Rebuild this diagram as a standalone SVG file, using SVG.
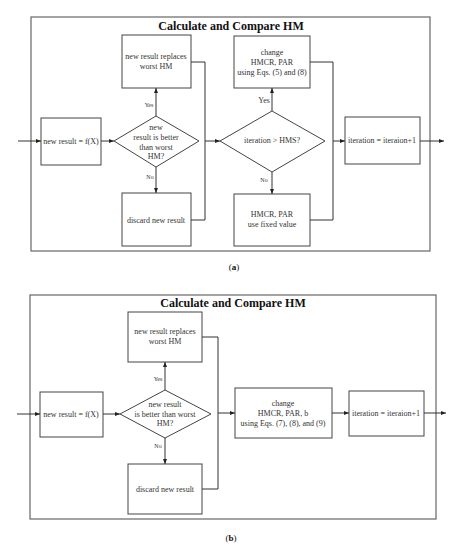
<svg xmlns="http://www.w3.org/2000/svg" width="469" height="550" viewBox="0 0 469 550">
<defs>
<marker id="ah" viewBox="0 0 10 10" refX="10" refY="5" markerWidth="5" markerHeight="5" orient="auto" markerUnits="userSpaceOnUse">
<path d="M0,1 L10,5 L0,9 z" fill="#222"/>
</marker>
<style>
.frame{fill:#fff;stroke:#666;stroke-width:1.2}
.box{fill:#fff;stroke:#444;stroke-width:1}
.ln{fill:none;stroke:#333;stroke-width:1}
.ar{fill:none;stroke:#333;stroke-width:1;marker-end:url(#ah)}
.t{font-family:"Liberation Serif",serif;font-size:8px;fill:#333;text-anchor:middle}
.s{font-family:"Liberation Serif",serif;font-size:6px;fill:#333;text-anchor:middle}
.title{font-family:"Liberation Serif",serif;font-size:12px;font-weight:bold;fill:#111;text-anchor:middle}
.cap{font-family:"Liberation Serif",serif;font-size:9px;fill:#111;text-anchor:middle}
</style>
</defs>
<rect width="469" height="550" fill="#fff"/>

<!-- Panel a -->
<g id="panel-a">
<rect class="frame" x="31" y="17" width="399" height="234"/>
<text class="title" x="231" y="30">Calculate and Compare HM</text>
</g>
<g id="a-newresult"><rect class="box" x="41" y="118" width="60" height="47"/><text class="t" x="71" y="144">new result = f(X)</text></g>
<g id="a-diamond"><polygon class="box" points="114,141 156,116 199,141 156,167"/>
<text class="t" x="156" y="130">new</text><text class="t" x="156" y="140">result is better</text><text class="t" x="156" y="150">than worst</text><text class="t" x="156" y="159">HM?</text></g>
<g id="a-replace"><rect class="box" x="122" y="35" width="69" height="53"/><text class="t" x="156" y="59">new result replaces</text><text class="t" x="156" y="69">worst HM</text></g>
<g id="a-discard"><rect class="box" x="122" y="193" width="69" height="53"/><text class="t" x="156" y="223">discard new result</text></g>
<g id="a-diamond2"><polygon class="box" points="220,141 272,111 325,141 272,172"/><text class="t" x="272" y="143">iteration &gt; HMS?</text></g>
<g id="a-change"><rect class="box" x="234" y="36" width="76" height="52"/><text class="t" x="272" y="55">change</text><text class="t" x="272" y="65">HMCR, PAR</text><text class="t" x="272" y="75">using Eqs. (5) and (8)</text></g>
<g id="a-fixed"><rect class="box" x="234" y="194" width="76" height="52"/><text class="t" x="272" y="217">HMCR, PAR</text><text class="t" x="272" y="227">use fixed value</text></g>
<g id="a-iter"><rect class="box" x="345" y="117" width="75" height="47"/><text class="t" x="382" y="143">iteration = iteraion+1</text></g>
<g id="a-connectors">
<line class="ar" x1="18" y1="141" x2="41" y2="141"/>
<line class="ar" x1="101" y1="141" x2="114" y2="141"/>
<line class="ar" x1="156" y1="116" x2="156" y2="88"/>
<line class="ar" x1="156" y1="167" x2="156" y2="193"/>
<polyline class="ln" points="191,62 205,62 205,220 191,220"/>
<line class="ar" x1="205" y1="141" x2="220" y2="141"/>
<line class="ar" x1="272" y1="111" x2="272" y2="88"/>
<line class="ar" x1="272" y1="172" x2="272" y2="194"/>
<polyline class="ln" points="310,62 333,62 333,220 310,220"/>
<line class="ar" x1="333" y1="141" x2="345" y2="141"/>
<line class="ar" x1="420" y1="141" x2="444" y2="141"/>
<text class="s" x="149" y="107">Yes</text>
<text class="s" x="150" y="179">No</text>
<text class="t" x="264" y="103">Yes</text>
<text class="s" x="264" y="182">No</text>
</g>
<text class="cap" x="234" y="270">(<tspan font-weight="bold">a</tspan>)</text>

<!-- Panel b -->
<g id="panel-b">
<rect class="frame" x="30" y="295" width="406" height="224"/>
<text class="title" x="233" y="307">Calculate and Compare HM</text>
</g>
<g id="b-newresult"><rect class="box" x="40" y="392" width="63" height="45"/><text class="t" x="71" y="417">new result = f(X)</text></g>
<g id="b-diamond"><polygon class="box" points="120,414 165,390 211,414 165,438"/>
<text class="t" x="165" y="407">new result</text><text class="t" x="165" y="417">is better than worst</text><text class="t" x="165" y="426">HM?</text></g>
<g id="b-replace"><rect class="box" x="128" y="312" width="74" height="50"/><text class="t" x="165" y="334">new result replaces</text><text class="t" x="165" y="344">worst HM</text></g>
<g id="b-discard"><rect class="box" x="128" y="464" width="74" height="50"/><text class="t" x="165" y="492">discard new result</text></g>
<g id="b-change"><rect class="box" x="235" y="388" width="97" height="50"/><text class="t" x="283" y="406">change</text><text class="t" x="283" y="416">HMCR, PAR, b</text><text class="t" x="283" y="426">using Eqs. (7), (8), and (9)</text></g>
<g id="b-iter"><rect class="box" x="349" y="391" width="75" height="45"/><text class="t" x="386" y="416">iteration = iteraion+1</text></g>
<g id="b-connectors">
<line class="ar" x1="17" y1="414" x2="40" y2="414"/>
<line class="ar" x1="103" y1="414" x2="120" y2="414"/>
<line class="ar" x1="165" y1="390" x2="165" y2="362"/>
<line class="ar" x1="165" y1="438" x2="165" y2="464"/>
<polyline class="ln" points="202,337 218,337 218,489 202,489"/>
<line class="ar" x1="218" y1="413" x2="235" y2="413"/>
<line class="ar" x1="332" y1="413" x2="349" y2="413"/>
<line class="ar" x1="424" y1="413" x2="446" y2="413"/>
<text class="s" x="158" y="381">Yes</text>
<text class="s" x="158" y="448">No</text>
</g>
<text class="cap" x="231" y="541">(<tspan font-weight="bold">b</tspan>)</text>
</svg>
